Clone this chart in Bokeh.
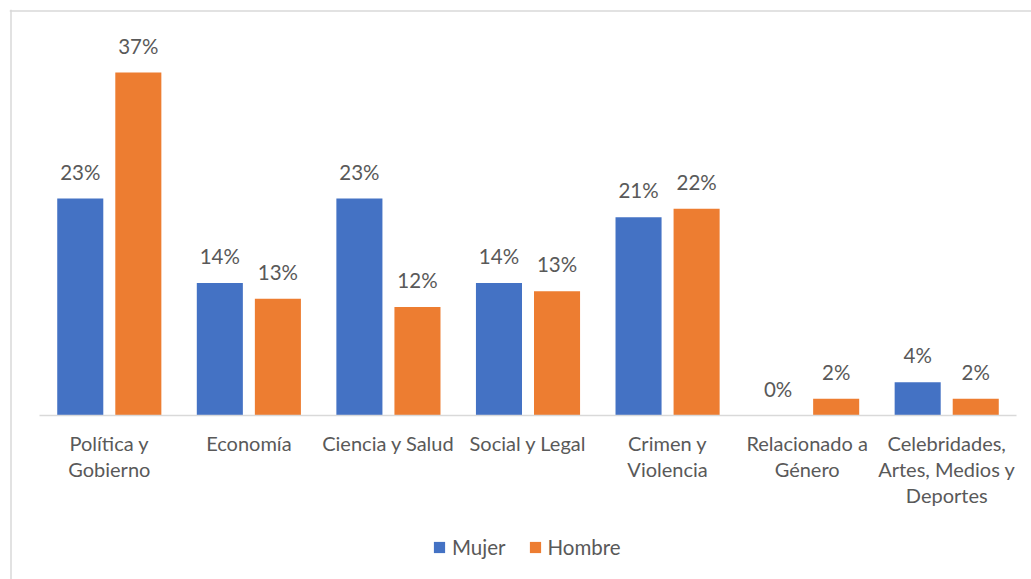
from bokeh.plotting import figure
from bokeh.models import ColumnDataSource, Legend, LegendItem, Span
from bokeh.transform import dodge
from bokeh.core.properties import value
from bokeh.embed import file_html
from bokeh.resources import INLINE

categories = ["Política y\nGobierno", "Economía", "Ciencia y Salud", "Social y Legal",
              "Crimen y\nViolencia", "Relacionado a\nGénero",
              "Celebridades,\nArtes, Medios y\nDeportes"]
mujer = [23.4, 14.3, 23.4, 14.3, 21.4, 0.0, 3.6]
hombre = [37.0, 12.6, 11.7, 13.4, 22.3, 1.8, 1.8]
series = ["Mujer", "Hombre"]
colors = ["#4472C4", "#ED7D31"]

FONT = "Lato"
TXT = "#595959"
n = len(categories)

idx = list(range(n))
src = ColumnDataSource(dict(
    x=idx, zero=[0] * n, cat=categories, mujer=mujer, hombre=hombre,
    mujer_lbl=[f"{round(v)}%" for v in mujer],
    hombre_lbl=[f"{round(v)}%" for v in hombre],
))

p = figure(width=1031, height=579, output_backend="svg", toolbar_location=None,
           x_range=(-0.715, n - 1 + 0.6075), y_range=(-17.69, 43.80),
           x_axis_location=None, y_axis_location=None,
           min_border_left=9, min_border_right=0,
           min_border_top=9, min_border_bottom=0)
p.outline_line_color = None
p.xgrid.visible = False
p.ygrid.visible = False
p.background_fill_color = "white"
p.border_fill_color = "white"

# chart-area border (left and top edges visible in the reference)
p.add_layout(Span(location=-0.7042, dimension="height", line_color="#D9D9D9", line_width=1.5))
p.add_layout(Span(location=43.64, dimension="width", line_color="#D9D9D9", line_width=1.5))

off = 0.208
w = 0.33
r1 = p.vbar(x=dodge("x", -off, range=p.x_range), top="mujer", width=w, source=src,
            fill_color=colors[0], line_color=None)
r2 = p.vbar(x=dodge("x", off, range=p.x_range), top="hombre", width=w, source=src,
            fill_color=colors[1], line_color=None)

# category axis line
p.segment(x0=[-0.5], x1=[n - 0.5], y0=[0], y1=[0], line_color="#D9D9D9", line_width=1.5)

for col, lbl, dx in (("mujer", "mujer_lbl", -off), ("hombre", "hombre_lbl", off)):
    p.text(x=dodge("x", dx, range=p.x_range), y=col, text=lbl, source=src,
           text_align="center", text_baseline="bottom", y_offset=-15,
           text_font=value(FONT), text_font_size="20.5px", text_color=TXT)

# category tick labels
p.text(x="x", y="zero", text="cat", source=src, text_align="center",
       text_baseline="top", y_offset=15, text_font=value(FONT),
       text_font_size="20px", text_color=TXT, text_line_height=1.1)

legend = Legend(items=[LegendItem(label=series[0], renderers=[r1]),
                       LegendItem(label=series[1], renderers=[r2])],
                orientation="horizontal", location=(423, 20),
                label_text_font=FONT, label_text_font_size="20.5px",
                label_text_color=TXT, glyph_width=14, glyph_height=14,
                label_standoff=6, spacing=22, border_line_color=None,
                background_fill_alpha=0, margin=0, padding=0)
p.add_layout(legend, "center")

open("out.html", "w").write(file_html(p, INLINE))
